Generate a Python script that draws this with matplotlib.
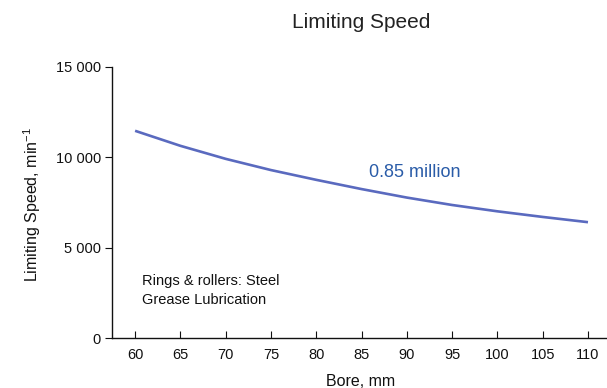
import matplotlib
matplotlib.use("Agg")
import matplotlib.pyplot as plt

plt.rcParams['font.family'] = ['Liberation Sans', 'DejaVu Sans']
plt.rcParams['mathtext.fontset'] = 'custom'
plt.rcParams['mathtext.rm'] = 'Liberation Sans'
plt.rcParams['mathtext.it'] = 'Liberation Sans'

bore = [60, 65, 70, 75, 80, 85, 90, 95, 100, 105, 110]
speed = [11460, 10630, 9910, 9290, 8750, 8240, 7770, 7360, 7010, 6700, 6410]
x_ticks = [60, 65, 70, 75, 80, 85, 90, 95, 100, 105, 110]
y_ticks = [0, 5000, 10000, 15000]
y_tick_labels = ["0", "5 000", "10 000", "15 000"]

fig = plt.figure(figsize=(6.07, 3.88), dpi=100)
ax = fig.add_axes([0.1845, 0.1284, 0.8155, 0.6996])
ax.plot(bore, speed, color='#5a6abf', lw=1.9, solid_capstyle='butt', solid_joinstyle='round')

ax.set_xlim(57.45, 112.1)
ax.set_ylim(0, 15000)
ax.set_xticks(x_ticks)
ax.set_yticks(y_ticks)
ax.set_yticklabels(y_tick_labels)
for s in ['top', 'right']:
    ax.spines[s].set_visible(False)
for s in ['left', 'bottom']:
    ax.spines[s].set_linewidth(1.0)
    ax.spines[s].set_color('#111111')
ax.tick_params(axis='x', direction='in', length=5, width=0.8, labelsize=10.5, pad=7, colors='#111111')
ax.tick_params(axis='y', direction='out', length=5, width=0.8, labelsize=10.5, pad=3, colors='#111111')

ax.text(90.9, 9130, '0.85 million', color='#2a5ca8', fontsize=13, ha='center', va='center')
ax.text(60.75, 3160, 'Rings & rollers: Steel', fontsize=10.5, ha='left', va='center', color='#111111')
ax.text(60.75, 2110, 'Grease Lubrication', fontsize=10.5, ha='left', va='center', color='#111111')

fig.text(361/607, 1 - 23/388, 'Limiting Speed', fontsize=15, ha='center', va='center', color='#222222')
fig.text(361/607, 1 - 382/388, 'Bore, mm', fontsize=11.5, ha='center', va='center', color='#111111')
fig.text(32/607, 1 - 205/388, 'Limiting Speed, min$^{-1}$', fontsize=11.5, ha='center', va='center',
         rotation=90, color='#111111')

fig.savefig('out.png', dpi=100)
